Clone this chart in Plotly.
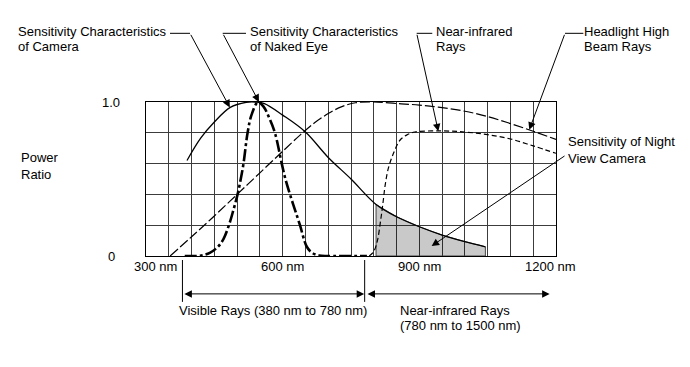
import plotly.graph_objects as go

# ---------------- data (wavelength nm, power ratio) ----------------
camera_nm = [390, 420, 450, 485, 520, 540, 560, 600, 650, 700, 750, 805, 850, 900, 950, 1000, 1045]
camera_val = [0.62, 0.765, 0.87, 0.965, 0.998, 1.0, 0.99, 0.915, 0.805, 0.64, 0.50, 0.335, 0.255, 0.19, 0.136, 0.093, 0.06]

eye_nm = [385, 410, 425, 440, 458, 470, 482, 492, 501, 508, 514, 523, 532, 546, 558, 570, 583, 598, 606, 616, 627, 638, 653, 665, 680, 700, 785]
eye_val = [0.0, 0.0, 0.005, 0.02, 0.06, 0.11, 0.2, 0.3, 0.4, 0.5, 0.6, 0.8, 0.92, 1.0, 0.97, 0.9, 0.8, 0.6, 0.5, 0.4, 0.3, 0.2, 0.06, 0.02, 0.003, 0.0, 0.0]

headlight_nm = [353, 400, 450, 500, 550, 600, 640, 670, 700, 730, 760, 800, 850, 900, 950, 1000, 1050, 1100, 1150, 1200]
headlight_val = [0.0, 0.125, 0.26, 0.40, 0.54, 0.68, 0.79, 0.865, 0.925, 0.97, 0.995, 1.0, 0.99, 0.98, 0.963, 0.94, 0.905, 0.86, 0.81, 0.757]

nir_nm = [790, 800, 808, 815, 820, 825, 832, 843, 857, 872, 890, 950, 1000, 1050, 1100, 1150, 1200]
nir_val = [0.0, 0.03, 0.10, 0.23, 0.34, 0.46, 0.57, 0.665, 0.75, 0.785, 0.805, 0.812, 0.805, 0.788, 0.76, 0.715, 0.667]

night_start, night_end = 805, 1045

x_tick_vals = [300, 600, 900, 1200]
x_tick_text = ["300 nm", "600 nm", "900 nm", "1200 nm"]
y_tick_vals = [0, 1]
y_tick_text = ["0", "1.0"]

X_MIN, X_MAX = 300, 1200
FONT = "Liberation Sans, Arial, sans-serif"
FS = 13

def px(nm):  # data x -> paper x
    return (nm - X_MIN) / (X_MAX - X_MIN)

fig = go.Figure()

# shaded night-view sensitivity
sx = [n for n in camera_nm if night_start <= n <= night_end]
sy = [v for n, v in zip(camera_nm, camera_val) if night_start <= n <= night_end]
fig.add_trace(go.Scatter(x=[sx[0]] + sx + [sx[-1], sx[0]], y=[0] + sy + [0, 0],
                         mode="lines", fill="toself", fillcolor="rgba(0,0,0,0.21)",
                         line=dict(color="#444", width=1), hoverinfo="skip"))

fig.add_trace(go.Scatter(x=headlight_nm, y=headlight_val, mode="lines", line_shape="spline",
                         line=dict(color="black", width=1.2, dash="10px,3px")))
fig.add_trace(go.Scatter(x=nir_nm, y=nir_val, mode="lines", line_shape="spline",
                         line=dict(color="black", width=1.2, dash="5px,3px")))
fig.add_trace(go.Scatter(x=camera_nm, y=camera_val, mode="lines", line_shape="spline",
                         line=dict(color="black", width=1.3)))
fig.add_trace(go.Scatter(x=eye_nm, y=eye_val, mode="lines", line_shape="spline",
                         line=dict(color="black", width=2.6, dash="12px,3px,3px,3px")))

annotations = []
shapes = []
tf = dict(family=FONT, size=FS, color="black")

def text_lines(lines, x, y_first, step=-0.099):
    for i, t in enumerate(lines):
        annotations.append(dict(x=x, y=y_first + i * step, xref="paper", yref="paper", text=t,
                                showarrow=False, xanchor="left", yanchor="middle", font=tf))

# axis labels
for v, t in zip(x_tick_vals, x_tick_text):
    shift = 9 if v == X_MIN else (-6 if v == X_MAX else 0)
    annotations.append(dict(x=v, y=-0.068, xref="x", yref="paper", text=t, showarrow=False,
                            xanchor="center", yanchor="middle", xshift=shift, font=tf))
for v, t in zip(y_tick_vals, y_tick_text):
    annotations.append(dict(x=-0.085, y=v, xref="paper", yref="y", text=t, showarrow=False,
                            xanchor="center", yanchor="middle", font=tf))

text_lines(["Power", "Ratio"], -0.31, 0.64, step=-0.112)

# callout labels
text_lines(["Sensitivity Characteristics", "of Camera"], -0.318, 1.457)
text_lines(["Sensitivity Characteristics", "of Naked Eye"], 0.248, 1.457)
text_lines(["Near-infrared", "Rays"], 0.703, 1.457)
text_lines(["Headlight High", "Beam Rays"], 1.063, 1.457)
text_lines(["Sensitivity of Night", "View Camera"], 1.024, 0.742, step=-0.106)

# leader lines: (tip nm, tip val, tail nm, tail val, horizontal segment nm range)
leaders = [
    (484, 0.965, 396.6, 1.446, (352.7, 396.6)),
    (548, 1.0, 468.4, 1.446, (468.4, 519.5)),
    (941.6, 0.81, 894.2, 1.446, (894.2, 928.4)),
    (1141.4, 0.82, 1219.8, 1.446, (1219.8, 1260.0)),
    (927, 0.065, 1222, 0.656, None),
]
for tx, ty, ax, ay, hseg in leaders:
    annotations.append(dict(x=tx, y=ty, xref="x", yref="y", ax=ax, ay=ay, axref="x", ayref="y",
                            text="", showarrow=True, arrowhead=2, arrowsize=1.5, arrowwidth=1,
                            arrowcolor="black", standoff=0))
    if hseg:
        shapes.append(dict(type="line", xref="paper", yref="paper", x0=px(hseg[0]), x1=px(hseg[1]),
                           y0=ay, y1=ay, line=dict(color="black", width=1)))

# range indicators below the axis
for b in [380, 780]:
    shapes.append(dict(type="line", xref="paper", yref="paper", x0=px(b), x1=px(b),
                       y0=-0.026, y1=-0.298, line=dict(color="black", width=1)))
for a, b in [(381, 779), (783, 1186)]:
    annotations.append(dict(x=b, y=-0.246, xref="x", yref="paper", ax=a, ay=0, axref="x", ayref="pixel",
                            text="", showarrow=True, arrowhead=2, startarrowhead=2, arrowside="end+start",
                            arrowsize=1.5, startarrowsize=1.5, arrowwidth=1, arrowcolor="black", standoff=0,
                            startstandoff=0))
text_lines(["Visible Rays (380 nm to 780 nm)"], 0.076, -0.355)
text_lines(["Near-infrared Rays", "(780 nm to 1500 nm)"], 0.614, -0.355)

fig.update_layout(
    width=690, height=367,
    margin=dict(l=138, r=142, t=94, b=119),
    paper_bgcolor="white", plot_bgcolor="white",
    showlegend=False,
    font=tf,
    annotations=annotations, shapes=shapes,
    xaxis=dict(range=[X_MIN, X_MAX], dtick=50, tick0=300, showticklabels=False, ticks="",
               showgrid=True, gridcolor="#3c3c3c", gridwidth=1, zeroline=False,
               showline=True, mirror=True, linecolor="black", linewidth=1, fixedrange=True),
    yaxis=dict(range=[0, 1], dtick=0.2, tick0=0, showticklabels=False, ticks="",
               showgrid=True, gridcolor="#3c3c3c", gridwidth=1, zeroline=False,
               showline=True, mirror=True, linecolor="black", linewidth=1, fixedrange=True),
)

fig.write_html("out.html")
